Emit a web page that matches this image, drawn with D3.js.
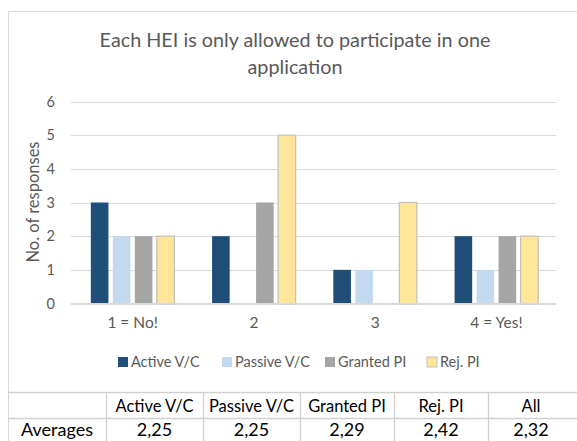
<!DOCTYPE html>
<html><head><meta charset="utf-8">
<script src="https://cdn.jsdelivr.net/npm/d3@7/dist/d3.min.js"></script>
<style>body{margin:0;background:#fff;}svg{display:block;font-family:Lato,"Open Sans",sans-serif;}</style>
</head><body>
<svg id="c" width="577" height="441"></svg>
<script>
const titleLines = ["Each HEI is only allowed to participate in one", "application"];
const categories = ["1 = No!", "2", "3", "4 = Yes!"];
const seriesNames = ["Active V/C", "Passive V/C", "Granted PI", "Rej. PI"];
const activeVC = [3, 2, 1, 2];
const passiveVC = [2, 0, 1, 1];
const grantedPI = [2, 3, 0, 2];
const rejPI = [2, 5, 3, 2];
const yTicks = [0, 1, 2, 3, 4, 5, 6];
const yTitle = "No. of responses";
const tableHeaders = ["", "Active V/C", "Passive V/C", "Granted PI", "Rej. PI", "All"];
const tableRow = ["Averages", "2,25", "2,25", "2,29", "2,42", "2,32"];

const colors = ["#1f4e79", "#c3d9ef", "#a5a5a5", "#ffe699"];
const strokes = ["none", "none", "none", "#bfbfbf"];
const seriesValues = [activeVC, passiveVC, grantedPI, rejPI];

const svg = d3.select("#c");
svg.append("path").attr("d", "M8.5,441 V11.5 H577").attr("fill", "none").attr("stroke", "#d9d9d9");

svg.append("g").selectAll("text").data(titleLines).join("text")
  .attr("x", 295).attr("y", (d, i) => 47 + i * 27)
  .attr("text-anchor", "middle").attr("font-size", 19.8).attr("fill", "#595959").text(d => d);

const y = d3.scaleLinear().domain([0, 6]).range([303.5, 101.5]);
const x0 = d3.scaleBand().domain(categories).range([71, 556]);
const groupW = 88;
const x1 = d3.scaleBand().domain(seriesNames)
  .range([(x0.bandwidth() - groupW) / 2 + 1, (x0.bandwidth() + groupW) / 2 + 1])
  .paddingInner(0.2).paddingOuter(0.1);

svg.append("g").selectAll("line").data(yTicks).join("line")
  .attr("x1", 71).attr("x2", 556)
  .attr("y1", d => Math.round(y(d)) + 0.5).attr("y2", d => Math.round(y(d)) + 0.5)
  .attr("stroke", "#d9d9d9");

const yAxis = svg.append("g").attr("transform", "translate(55,0)")
  .call(d3.axisLeft(y).tickValues(yTicks).tickSize(0).tickPadding(0).tickFormat(d3.format("d")));
yAxis.select(".domain").remove();
yAxis.selectAll("text").attr("font-size", 14.5).attr("fill", "#595959").attr("font-family", "Lato,sans-serif");

svg.append("text").attr("transform", "translate(39,202) rotate(-90)")
  .attr("text-anchor", "middle").attr("font-size", 16.5).attr("fill", "#595959").text(yTitle);

const groups = svg.append("g").selectAll("g").data(categories).join("g")
  .attr("transform", d => `translate(${x0(d)},0)`);
groups.selectAll("rect").data((c, ci) => seriesNames.map((s, si) => ({s, si, v: seriesValues[si][ci]})))
  .join("rect")
  .filter(d => d.v > 0)
  .attr("x", d => x1(d.s)).attr("width", x1.bandwidth())
  .attr("y", d => y(d.v)).attr("height", d => y(0) - y(d.v))
  .attr("fill", d => colors[d.si]).attr("stroke", d => strokes[d.si]).attr("stroke-width", 1.2);

svg.append("line").attr("x1", 71).attr("x2", 556).attr("y1", 303.5).attr("y2", 303.5).attr("stroke", "#d9d9d9");

const xAxis = svg.append("g").attr("transform", "translate(1,303)")
  .call(d3.axisBottom(x0).tickSize(0).tickPadding(14));
xAxis.select(".domain").remove();
xAxis.selectAll("text").attr("font-size", 15.5).attr("fill", "#595959").attr("font-family", "Lato,sans-serif");

const legendX = [118, 222, 325, 427];
const lg = svg.append("g").selectAll("g").data(seriesNames).join("g")
  .attr("transform", (d, i) => `translate(${legendX[i]},362)`);
lg.append("rect").attr("x", 0).attr("y", -5).attr("width", 10).attr("height", 10)
  .attr("fill", (d, i) => colors[i]).attr("stroke", (d, i) => strokes[i]);
lg.append("text").attr("x", 13).attr("y", 5).attr("font-size", 14.5).attr("fill", "#595959").text(d => d);

const colX = [8, 106, 203, 300, 394, 488, 590];
const rowY = [392, 418, 445];
const tb = svg.append("g");
tb.selectAll("line.h").data(rowY.slice(0, 2)).join("line").attr("class", "h")
  .attr("x1", 8).attr("x2", 577).attr("y1", d => d + 0.5).attr("y2", d => d + 0.5).attr("stroke", "#d0d0d0").attr("stroke-width", 1.3);
tb.selectAll("line.v").data(colX.slice(1, 6)).join("line").attr("class", "v")
  .attr("x1", d => d + 0.5).attr("x2", d => d + 0.5).attr("y1", 392).attr("y2", 441).attr("stroke", "#d0d0d0").attr("stroke-width", 1.3);
tb.selectAll("text.hd").data(tableHeaders).join("text").attr("class", "hd")
  .attr("x", (d, i) => (colX[i] + Math.min(colX[i + 1], 574)) / 2).attr("y", 412)
  .attr("text-anchor", "middle").attr("font-size", 16.5).attr("fill", "#000").text(d => d);
tb.selectAll("text.rw").data(tableRow).join("text").attr("class", "rw")
  .attr("x", (d, i) => (colX[i] + Math.min(colX[i + 1], 574)) / 2).attr("y", 436)
  .attr("text-anchor", "middle").attr("font-size", 18).attr("fill", "#000").text(d => d);
</script>
</body></html>
